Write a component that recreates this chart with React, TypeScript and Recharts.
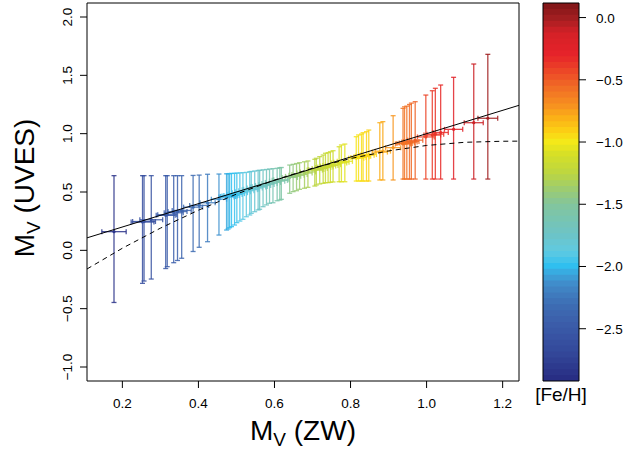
import React from "react";
import {
  ComposedChart,
  Scatter,
  ErrorBar,
  XAxis,
  YAxis,
  ReferenceArea,
  Label,
} from "recharts";

// M_V from Zinn & West scale (x) with its error
const zwMv = [
  0.178, 0.253, 0.257, 0.276, 0.314, 0.318, 0.335, 0.345, 0.356, 0.386,
  0.402, 0.424, 0.454, 0.474, 0.478, 0.482, 0.487, 0.495, 0.501, 0.509,
  0.517, 0.526, 0.535, 0.539, 0.548, 0.557, 0.561, 0.57, 0.579, 0.587,
  0.596, 0.607, 0.614, 0.618, 0.64, 0.649, 0.658, 0.666, 0.679, 0.688,
  0.706, 0.71, 0.719, 0.728, 0.734, 0.741, 0.747, 0.754, 0.77, 0.776,
  0.785, 0.815, 0.821, 0.829, 0.833, 0.842, 0.848, 0.877, 0.885, 0.912,
  0.938, 0.942, 0.948, 0.955, 0.96, 0.97, 0.998, 1.015, 1.023, 1.037,
  1.071, 1.124, 1.161,
];
const zwErr = [
  0.032, 0.03, 0.03, 0.03, 0.025, 0.025, 0.025, 0.025, 0.025, 0.025,
  0.025, 0.02, 0.02, 0.02, 0.02, 0.02, 0.02, 0.02, 0.02, 0.02,
  0.02, 0.02, 0.02, 0.02, 0.02, 0.02, 0.02, 0.02, 0.02, 0.02,
  0.02, 0.02, 0.02, 0.02, 0.02, 0.02, 0.02, 0.02, 0.02, 0.02,
  0.02, 0.02, 0.02, 0.02, 0.02, 0.02, 0.02, 0.02, 0.02, 0.02,
  0.02, 0.02, 0.02, 0.02, 0.02, 0.02, 0.02, 0.02, 0.02, 0.02,
  0.02, 0.02, 0.02, 0.02, 0.02, 0.02, 0.022, 0.022, 0.022, 0.02,
  0.024, 0.025, 0.026,
];
// M_V from UVES metallicities, with lower and upper ends of the error bar
const uvesMv = [
  0.16, 0.243, 0.247, 0.262, 0.3, 0.305, 0.322, 0.332, 0.342, 0.37,
  0.385, 0.408, 0.438, 0.458, 0.462, 0.466, 0.471, 0.479, 0.486, 0.494,
  0.502, 0.511, 0.52, 0.524, 0.534, 0.543, 0.547, 0.556, 0.565, 0.573,
  0.582, 0.593, 0.6, 0.604, 0.625, 0.634, 0.643, 0.651, 0.663, 0.672,
  0.688, 0.692, 0.701, 0.709, 0.715, 0.722, 0.728, 0.734, 0.749, 0.755,
  0.763, 0.79, 0.796, 0.803, 0.807, 0.816, 0.821, 0.842, 0.85, 0.88,
  0.912, 0.916, 0.921, 0.928, 0.933, 0.944, 0.972, 0.988, 0.996, 1.01,
  1.037, 1.094, 1.132,
];
const uvesLo = [
  -0.447, -0.283, -0.263, -0.246, -0.156, -0.14, -0.106, -0.087, -0.068, -0.01,
  0.026, 0.074, 0.131, 0.174, 0.183, 0.194, 0.203, 0.217, 0.237, 0.251,
  0.266, 0.288, 0.303, 0.317, 0.331, 0.346, 0.352, 0.374, 0.389, 0.403,
  0.408, 0.425, 0.431, 0.437, 0.489, 0.503, 0.511, 0.523, 0.532, 0.54,
  0.551, 0.56, 0.569, 0.574, 0.58, 0.58, 0.583, 0.586, 0.588, 0.588,
  0.588, 0.594, 0.594, 0.594, 0.594, 0.594, 0.594, 0.603, 0.603, 0.603,
  0.611, 0.611, 0.611, 0.611, 0.611, 0.611, 0.611, 0.611, 0.611, 0.611,
  0.611, 0.611, 0.611,
];
const uvesHi = [
  0.64, 0.64, 0.64, 0.64, 0.64, 0.64, 0.64, 0.64, 0.64, 0.642,
  0.645, 0.652, 0.654, 0.656, 0.657, 0.658, 0.659, 0.66, 0.662, 0.664,
  0.666, 0.668, 0.674, 0.676, 0.68, 0.684, 0.686, 0.69, 0.693, 0.697,
  0.7, 0.703, 0.708, 0.71, 0.731, 0.737, 0.744, 0.751, 0.759, 0.766,
  0.78, 0.789, 0.803, 0.817, 0.832, 0.837, 0.845, 0.854, 0.888, 0.903,
  0.911, 0.974, 0.989, 0.997, 1.008, 1.017, 1.031, 1.094, 1.103, 1.154,
  1.217, 1.23, 1.236, 1.25, 1.262, 1.274, 1.331, 1.368, 1.389, 1.417,
  1.483, 1.597, 1.68,
];
const feh = [
  -2.85, -2.62, -2.6, -2.58, -2.5, -2.49, -2.45, -2.43, -2.4, -2.33,
  -2.3, -2.22, -2.12, -2.05, -2.03, -2.02, -2.0, -1.98, -1.96, -1.93,
  -1.9, -1.87, -1.84, -1.83, -1.8, -1.77, -1.75, -1.72, -1.69, -1.66,
  -1.63, -1.6, -1.57, -1.55, -1.45, -1.42, -1.39, -1.37, -1.34, -1.31,
  -1.26, -1.25, -1.23, -1.21, -1.19, -1.17, -1.16, -1.14, -1.1, -1.08,
  -1.06, -0.98, -0.97, -0.96, -0.95, -0.93, -0.92, -0.8, -0.78, -0.72,
  -0.6, -0.59, -0.58, -0.56, -0.55, -0.52, -0.42, -0.38, -0.36, -0.33,
  -0.24, -0.1, 0.0,
];

// one-to-one line and the dashed relation
const identityX = [0.107, 1.243];
const identityY = [0.107, 1.243];
const curveX = [0.107, 0.2, 0.3, 0.4, 0.5, 0.6, 0.7, 0.8, 0.9, 1.0, 1.1, 1.2, 1.243];
const curveY = [-0.16, 0.018, 0.19, 0.344, 0.482, 0.602, 0.704, 0.787, 0.852, 0.899, 0.926, 0.935, 0.936];

const xTicks = [0.2, 0.4, 0.6, 0.8, 1.0, 1.2];
const yTicks = [-1.0, -0.5, 0.0, 0.5, 1.0, 1.5, 2.0];
const fehTicks = [0.0, -0.5, -1.0, -1.5, -2.0, -2.5];

const xDomain = [0.107, 1.243];
const yDomain = [-1.12, 2.12];
const fehDomain = [-2.92, 0.117];

const paletteFeh = [
  -2.92, -2.7, -2.5, -2.3, -2.15, -2.05, -2.0, -1.88, -1.75, -1.5,
  -1.4, -1.25, -1.1, -1.0, -0.92, -0.8, -0.7, -0.55, -0.42, -0.3,
  -0.12, 0.0, 0.117,
];
const paletteHex = [
  "#272b82", "#334799", "#3a59a7", "#3e6eb4", "#4189c8", "#3aa8de", "#2ebff0", "#5fcae2", "#6cc4c8", "#83c59c",
  "#98ca78", "#bdd640", "#d6df27", "#f4ea19", "#fcd214", "#fbae17", "#f68f20", "#f06a26", "#ec4427", "#e6232a",
  "#d32127", "#a01e20", "#7e1517",
];

const FONT = "'Liberation Sans', Arial, Helvetica, sans-serif";

function hexToRgb(h: string) {
  const n = parseInt(h.slice(1), 16);
  return [(n >> 16) & 255, (n >> 8) & 255, n & 255];
}

function fehColor(v: number) {
  let i = 0;
  while (i < paletteFeh.length - 2 && v > paletteFeh[i + 1]) i++;
  const t = Math.max(0, Math.min(1, (v - paletteFeh[i]) / (paletteFeh[i + 1] - paletteFeh[i])));
  const a = hexToRgb(paletteHex[i]);
  const b = hexToRgb(paletteHex[i + 1]);
  const c = a.map((ch, k) => Math.round(ch + (b[k] - ch) * t));
  return `rgb(${c[0]},${c[1]},${c[2]})`;
}

const fmt = (v: number) => (v < 0 ? "\u2212" : "") + Math.abs(v).toFixed(1);

const XTick = ({ x, y, payload }: any) => (
  <text x={x} y={y + 20} textAnchor="middle" fontSize={13.5} fontFamily={FONT} fill="#000">
    {fmt(payload.value)}
  </text>
);

const YTick = ({ x, y, payload }: any) => (
  <text
    x={x - 8}
    y={y}
    textAnchor="middle"
    fontSize={13.5}
    fontFamily={FONT}
    fill="#000"
    transform={`rotate(-90, ${x - 8}, ${y})`}
  >
    {fmt(payload.value)}
  </text>
);

const BarTick = ({ x, y, payload }: any) => (
  <text x={x + 10} y={y + 5} textAnchor="start" fontSize={13.5} fontFamily={FONT} fill="#000">
    {fmt(payload.value)}
  </text>
);

const XLabel = ({ viewBox }: any) => {
  const cx = viewBox.x + viewBox.width / 2;
  const by = viewBox.y + 59;
  return (
    <text x={cx} y={by} textAnchor="middle" fontSize={28} fontFamily={FONT} fill="#000">
      <tspan>M</tspan>
      <tspan fontSize={19} dy={6}>V</tspan>
      <tspan dy={-6}> (ZW)</tspan>
    </text>
  );
};

const YLabel = ({ viewBox }: any) => {
  const cy = viewBox.y + viewBox.height / 2 - 4;
  const bx = 34;
  return (
    <text
      x={bx}
      y={cy}
      textAnchor="middle"
      fontSize={28}
      fontFamily={FONT}
      fill="#000"
      transform={`rotate(-90, ${bx}, ${cy})`}
    >
      <tspan>M</tspan>
      <tspan fontSize={19} dy={6}>V</tspan>
      <tspan dy={-6}> (UVES)</tspan>
    </text>
  );
};

const FeHLabel = ({ viewBox }: any) => (
  <text
    x={viewBox.x + viewBox.width / 2}
    y={viewBox.y + 20}
    textAnchor="middle"
    fontSize={19}
    fontFamily={FONT}
    fill="#000"
  >
    [Fe/H]
  </text>
);

export default function App() {
  const points = zwMv.map((x, i) => ({
    x,
    y: uvesMv[i],
    ex: zwErr[i],
    ey: [uvesMv[i] - uvesLo[i], uvesHi[i] - uvesMv[i]],
    color: fehColor(feh[i]),
  }));
  const identity = identityX.map((x, i) => ({ x, y: identityY[i] }));
  const curve = curveX.map((x, i) => ({ x, y: curveY[i] }));

  const nBands = 64;
  const bandStep = (fehDomain[1] - fehDomain[0]) / nBands;
  const bands = Array.from({ length: nBands }, (_, i) => {
    const lo = fehDomain[0] + i * bandStep;
    const hi = Math.min(fehDomain[1], lo + bandStep * 1.6);
    return { lo, hi, color: fehColor(lo + bandStep / 2) };
  });
  // invisible anchors so the colour bar chart has a plot area
  const barAnchors = [
    { x: 0, y: fehDomain[0] },
    { x: 1, y: fehDomain[1] },
  ];

  return (
    <div style={{ position: "absolute", left: 0, top: 0, width: 625, height: 450, background: "#fff" }}>
      <div style={{ position: "absolute", left: 0, top: 0 }}>
        <ComposedChart width={625} height={450} margin={{ top: 3, right: 106, bottom: 0, left: 0 }}>
          <XAxis
            type="number"
            dataKey="x"
            domain={xDomain}
            allowDataOverflow
            ticks={xTicks}
            interval={0}
            height={69}
            tickSize={7}
            tickMargin={0}
            axisLine={false}
            tickLine={{ stroke: "#000" }}
            tick={XTick}
          >
            <Label content={XLabel} />
          </XAxis>
          <YAxis
            type="number"
            dataKey="y"
            domain={yDomain}
            allowDataOverflow
            ticks={yTicks}
            interval={0}
            width={87}
            tickSize={7}
            tickMargin={0}
            axisLine={false}
            tickLine={{ stroke: "#000" }}
            tick={YTick}
          >
            <Label content={YLabel} />
          </YAxis>
          {points.map((p, i) => (
            <Scatter
              key={i}
              data={[p]}
              dataKey="y"
              isAnimationActive={false}
              shape={(s: any) => <circle cx={s.cx} cy={s.cy} r={1.6} fill={p.color} />}
            >
              <ErrorBar dataKey="ey" direction="y" width={2.5} stroke={p.color} strokeOpacity={0.85} strokeWidth={1.3} />
              <ErrorBar dataKey="ex" direction="x" width={2.5} stroke={p.color} strokeOpacity={0.85} strokeWidth={1.3} />
            </Scatter>
          ))}
          <Scatter
            data={identity}
            dataKey="y"
            isAnimationActive={false}
            line={{ stroke: "#000", strokeWidth: 1 }}
            shape={() => <g />}
          />
          <Scatter
            data={curve}
            dataKey="y"
            isAnimationActive={false}
            line={{ stroke: "#000", strokeWidth: 1, strokeDasharray: "5 4" }}
            shape={() => <g />}
          />
          <ReferenceArea
            x1={xDomain[0]}
            x2={xDomain[1]}
            y1={yDomain[0]}
            y2={yDomain[1]}
            fill="none"
            stroke="#000"
            strokeWidth={1}
          />
        </ComposedChart>
      </div>
      <div style={{ position: "absolute", left: 520, top: 0 }}>
        <ComposedChart width={105} height={450} margin={{ top: 3, right: 0, bottom: 0, left: 23 }}>
          <XAxis
            type="number"
            dataKey="x"
            domain={[0, 1]}
            allowDataOverflow
            height={69}
            tick={false}
            tickLine={false}
            axisLine={false}
          >
            <Label content={FeHLabel} />
          </XAxis>
          <YAxis
            type="number"
            dataKey="y"
            orientation="right"
            domain={fehDomain}
            allowDataOverflow
            ticks={fehTicks}
            interval={0}
            width={46}
            tickSize={7}
            tickMargin={0}
            axisLine={false}
            tickLine={{ stroke: "#000" }}
            tick={BarTick}
          />
          <Scatter data={barAnchors} dataKey="y" isAnimationActive={false} shape={() => <g />} />
          {bands.map((b, i) => (
            <ReferenceArea
              key={i}
              x1={0}
              x2={1}
              y1={b.lo}
              y2={b.hi}
              fill={b.color}
              fillOpacity={1}
              stroke="none"
            />
          ))}
          <ReferenceArea x1={0} x2={1} y1={fehDomain[0]} y2={fehDomain[1]} fill="none" stroke="#000" strokeWidth={1} />
        </ComposedChart>
      </div>
    </div>
  );
}
